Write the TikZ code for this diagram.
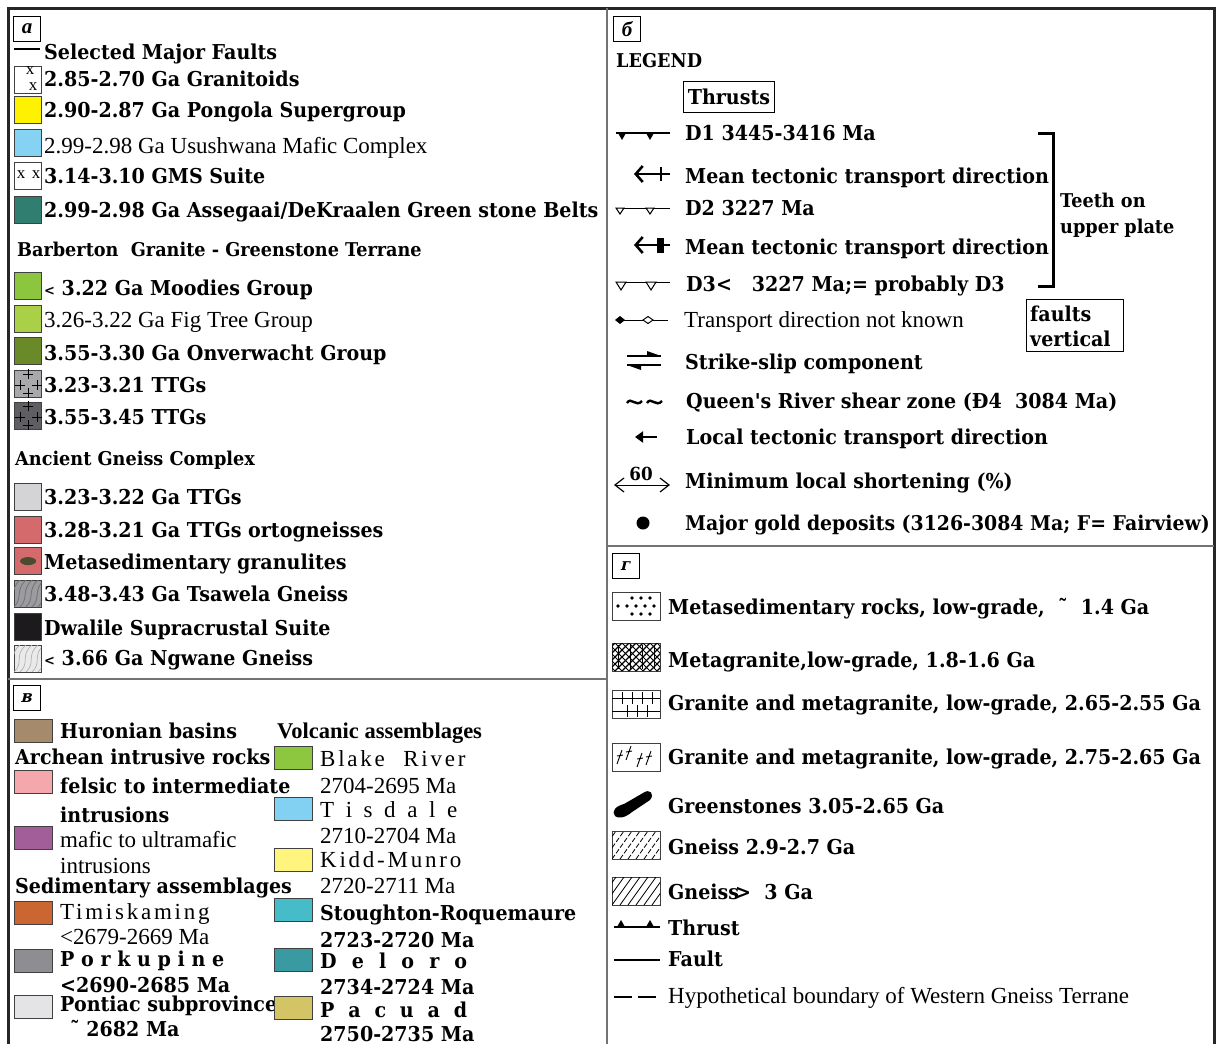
\documentclass[tikz,border=0pt]{standalone}
\usepackage{fontspec}
\setmainfont{Liberation Serif}
\newfontfamily\bk{DejaVu Serif}[FakeStretch=0.93]
\newfontfamily\spc{Liberation Serif}[LetterSpace=12]
\usetikzlibrary{arrows.meta}
\definecolor{pongola}{HTML}{FFF200}
\definecolor{usush}{HTML}{86D2F2}
\definecolor{assegaai}{HTML}{2F7E70}
\definecolor{moodies}{HTML}{8CC63F}
\definecolor{figtree}{HTML}{A9D046}
\definecolor{onverw}{HTML}{6A8A2A}
\definecolor{ttgA}{HTML}{A9A9AB}
\definecolor{ttgB}{HTML}{5F5F63}
\definecolor{ttgC}{HTML}{D4D4D6}
\definecolor{orto}{HTML}{D46A6C}
\definecolor{oval}{HTML}{4B4B30}
\definecolor{tsawela}{HTML}{9C9CA0}
\definecolor{dwalile}{HTML}{1C1A1C}
\definecolor{ngwane}{HTML}{EAEAEA}
\definecolor{huron}{HTML}{A58A6C}
\definecolor{felsic}{HTML}{F5A8AC}
\definecolor{mafic}{HTML}{A25E98}
\definecolor{timisk}{HTML}{CB6633}
\definecolor{porcu}{HTML}{8D8D92}
\definecolor{pontiac}{HTML}{E4E4E6}
\definecolor{blake}{HTML}{8DC63F}
\definecolor{tisdale}{HTML}{82D1F3}
\definecolor{kidd}{HTML}{FFF57E}
\definecolor{stough}{HTML}{46BCC8}
\definecolor{deloro}{HTML}{3A9AA1}
\definecolor{pacuad}{HTML}{D3C465}
\tikzstyle{every node}=[inner sep=0pt]
\tikzstyle{bt}=[anchor=west,text height=14pt,text depth=0pt,font=\bk\bfseries\fontsize{20.5}{22}\selectfont]
\tikzstyle{hd}=[bt,font=\bk\bfseries\fontsize{19}{20}\selectfont]
\tikzstyle{rt}=[anchor=west,text height=14pt,text depth=0pt,font=\fontsize{23}{24}\selectfont]
\tikzstyle{st}=[rt,font=\spc\fontsize{23}{24}\selectfont]
\tikzstyle{sw}=[draw=black!75,line width=1.2pt,anchor=north west,minimum width=27pt,minimum height=27pt]
\tikzstyle{swb}=[sw,minimum width=38pt,minimum height=23pt]
\tikzstyle{swg}=[sw,minimum width=48pt,minimum height=28pt]
\tikzstyle{tag}=[draw,line width=1.2pt,anchor=north west,minimum width=27pt,minimum height=25pt,font=\bfseries\itshape\fontsize{21}{22}\selectfont]
\tikzstyle{tagup}=[font=\bk\bfseries\fontsize{17}{18}\selectfont]
\tikzstyle{frame}=[line width=3pt,black!85]
\tikzstyle{divider}=[line width=2pt,black!55]
\tikzstyle{sym}=[line width=1.6pt]
\tikzstyle{xmark}=[font=\fontsize{17}{17}\selectfont]
\begin{document}
\begin{tikzpicture}[x=1pt,y=-1pt]
\useasboundingbox (0,0) rectangle (1220,1044);
% frame and panels
\draw[frame] (8,1044) -- (8,8) -- (1214,8) -- (1214,1044);
\draw[divider] (607,8) -- (607,1044);
\draw[divider] (8,679) -- (607,679);
\draw[divider] (607,546) -- (1214,546);

% ---- panel a
\node[tag] (tagA) at (13,16) {а};
\draw[line width=2.5pt] (14,49) -- (40,49);
\node[bt] (faultsT) at (44,52) {Selected Major Faults};
\node[sw,fill=white] (gran) at (14,66) {};
\node[xmark] (granX1) at (30,71) {x};
\node[xmark] (granX2) at (33,87) {x};
\node[bt] (granT) at (44,79) {2.85-2.70 Ga Granitoids};
\node[sw,fill=pongola] (pong) at (14,96) {};
\node[bt] (pongT) at (44,110) {2.90-2.87 Ga Pongola Supergroup};
\node[sw,fill=usush] (usush) at (14,129) {};
\node[rt] (usushT) at (44,146) {2.99-2.98 Ga Usushwana Mafic Complex};
\node[sw,fill=white] (gms) at (14,162) {};
\node[xmark] (gmsX1) at (21,175) {x};
\node[xmark] (gmsX2) at (36,175) {x};
\node[bt] (gmsT) at (44,176) {3.14-3.10 GMS Suite};
\node[sw,fill=assegaai] (asse) at (14,196) {};
\node[bt] (asseT) at (44,210) {2.99-2.98 Ga Assegaai/DeKraalen Green stone Belts};
\node[hd] (barbT) at (17,249) {Barberton\ \ Granite - Greenstone Terrane};
\node[sw,fill=moodies] (mood) at (14,272) {};
\node[bt] (moodT) at (44,288) {{\fontsize{14}{14}\selectfont<} 3.22 Ga Moodies Group};
\node[sw,fill=figtree] (fig) at (14,305) {};
\node[rt] (figT) at (44,320) {3.26-3.22 Ga Fig Tree Group};
\node[sw,fill=onverw] (onve) at (14,337) {};
\node[bt] (onveT) at (44,353) {3.55-3.30 Ga Onverwacht Group};
\node[sw,fill=ttgA] (ttgA) at (14,370) {};
\node[bt] (ttgAT) at (44,385) {3.23-3.21 TTGs};
\node[sw,fill=ttgB] (ttgB) at (14,402) {};
\node[bt] (ttgBT) at (44,417) {3.55-3.45 TTGs};
\foreach \b in {ttgA,ttgB}
  \foreach \p in {(0,-10),(-8,1),(9,1),(0,9)}
    \draw[line width=1pt,shift={(\b.center)},shift={\p}] (-5,0) -- (5,0) (0,-5) -- (0,5);
\node[hd] (agcT) at (15,458) {Ancient Gneiss Complex};
\node[sw,fill=ttgC] (ttgC) at (14,483) {};
\node[bt] (ttgCT) at (44,497) {3.23-3.22 Ga TTGs};
\node[sw,fill=orto] (orto) at (14,516) {};
\node[bt] (ortoT) at (44,530) {3.28-3.21 Ga TTGs ortogneisses};
\node[sw,fill=orto] (granu) at (14,547) {};
\fill[oval] (granu.center) ellipse (8 and 4);
\node[bt] (granuT) at (44,562) {Metasedimentary granulites};
\node[sw,fill=tsawela] (tsaw) at (14,580) {};
\begin{scope}
  \clip (14,580) rectangle (41,607);
  \foreach \i in {-16,-10,...,40}
    \draw[black!55,line width=0.8pt] (\i,607) .. controls (\i+9,598) and (\i+1,590) .. (\i+12,580);
\end{scope}
\node[bt] (tsawT) at (44,594) {3.48-3.43 Ga Tsawela Gneiss};
\node[sw,fill=dwalile] (dwal) at (14,613) {};
\node[bt] (dwalT) at (44,628) {Dwalile Supracrustal Suite};
\node[sw,fill=ngwane] (ngwa) at (14,645) {};
\begin{scope}
  \clip (14,645) rectangle (41,672);
  \foreach \i in {-16,-10,...,40}
    \draw[black!30,line width=0.7pt] (\i,672) .. controls (\i+10,663) and (\i,655) .. (\i+12,645);
\end{scope}
\node[bt] (ngwaT) at (44,658) {{\fontsize{14}{14}\selectfont<} 3.66 Ga Ngwane Gneiss};

% ---- panel B
\node[tag] (tagB) at (13,685) {};
\node[tagup,xslant=0.25,transform shape] (tagBT) at (tagB.center) {в};
\node[swb,fill=huron] (huron) at (14,719) {};
\node[bt] (huronT) at (60,731) {Huronian basins};
\node[bt] (archT) at (15,757) {Archean intrusive rocks};
\node[swb,fill=felsic] (felsic) at (14,770) {};
\node[bt] (felsicT) at (60,786) {felsic to intermediate};
\node[bt] (felsicT2) at (60,815) {intrusions};
\node[swb,fill=mafic] (mafic) at (14,826) {};
\node[rt] (maficT) at (60,840) {mafic to ultramafic};
\node[rt] (maficT2) at (60,866) {intrusions};
\node[bt] (sedT) at (15,886) {Sedimentary assemblages};
\node[swb,fill=timisk] (timisk) at (14,901) {};
\node[st] (timiskT) at (60,912) {Timiskaming};
\node[rt] (timiskA) at (60,937) {<2679-2669 Ma};
\node[swb,fill=porcu] (porcu) at (14,949) {};
\node[bt] (porcuT) at (60,959) {\makebox[164pt][s]{P o r k u p i n e}};
\node[bt] (porcuA) at (60,985) {<2690-2685 Ma};
\node[swb,fill=pontiac] (pontiac) at (14,995) {};
\node[bt] (pontiacT) at (60,1004) {Pontiac subprovince};
\node[bt] (pontiacA) at (70,1029) {˜ 2682 Ma};
\node[bt,font=\bfseries\fontsize{22.5}{24}\selectfont] (volcT) at (277,731) {Volcanic assemblages};
\node[swb,fill=blake] (blake) at (274,746) {};
\node[st] (blakeT) at (320,759) {Blake\hspace{10pt} River};
\node[rt] (blakeA) at (320,786) {2704-2695 Ma};
\node[swb,fill=tisdale] (tisdale) at (274,797) {};
\node[rt] (tisdaleT) at (320,810) {\makebox[137pt][s]{T i s d a l e}};
\node[rt] (tisdaleA) at (320,836) {2710-2704 Ma};
\node[swb,fill=kidd] (kidd) at (274,848) {};
\node[st] (kiddT) at (320,860) {Kidd-Munro};
\node[rt] (kiddA) at (320,886) {2720-2711 Ma};
\node[swb,fill=stough] (stough) at (274,898) {};
\node[bt] (stoughT) at (320,913) {Stoughton-Roquemaure};
\node[bt] (stoughA) at (320,940) {2723-2720 Ma};
\node[swb,fill=deloro] (deloro) at (274,948) {};
\node[bt] (deloroT) at (320,961) {\makebox[147pt][s]{D e l o r o}};
\node[bt] (deloroA) at (320,987) {2734-2724 Ma};
\node[swb,fill=pacuad] (pacuad) at (274,996) {};
\node[bt] (pacuadT) at (320,1010) {\makebox[147pt][s]{P a c u a d}};
\node[bt] (pacuadA) at (320,1034) {2750-2735 Ma};

% ---- panel b
\node[tag] (tagC) at (613,16) {б};
\node[hd] (legendT) at (616,60) {LEGEND};
\node[draw,line width=1.2pt,minimum width=91pt,minimum height=31pt,font=\bk\bfseries\fontsize{20.5}{22}\selectfont] (thrustsT) at (729,97) {Thrusts};
% D1
\draw[sym] (616,133) -- (670,133);
\foreach \x in {622,650} \fill (\x-4,133) -- (\x+4,133) -- (\x,140) -- cycle;
\node[bt] (d1T) at (685,133) {D1 3445-3416 Ma};
\draw[line width=2.6pt,-{Straight Barb[length=7pt,width=16pt,line width=2.6pt]}] (670,174) -- (634,174);
\draw[line width=2.6pt] (661,167) -- (661,181);
\node[bt] (meanT1) at (685,176) {Mean tectonic transport direction};
% D2
\draw[line width=1pt] (616,208) -- (670,208);
\foreach \x in {620,650} \draw[line width=1pt,fill=white] (\x-4,208) -- (\x+4,208) -- (\x,214) -- cycle;
\node[bt] (d2T) at (685,208) {D2 3227 Ma};
\draw[line width=2.6pt,-{Straight Barb[length=7pt,width=16pt,line width=2.6pt]}] (670,245) -- (634,245);
\fill (657,238) rectangle (664,253);
\node[bt] (meanT2) at (685,247) {Mean tectonic transport direction};
% D3
\draw[line width=1pt] (616,282) -- (670,282);
\foreach \x in {621,651} \draw[line width=1pt,fill=white] (\x-5,282) -- (\x+5,282) -- (\x,290) -- cycle;
\node[bt] (d3T) at (686,284) {D3<\ \ \ 3227 Ma;= probably D3};
\draw[line width=3pt] (1038,133) -- (1053,133) -- (1053,286) -- (1038,286);
\node[hd] (teethT1) at (1060,200) {Teeth on};
\node[hd] (teethT2) at (1060,226) {upper plate};
\node[draw,line width=1.2pt,anchor=north west,minimum width=97pt,minimum height=52pt] (vertBox) at (1026,299) {};
\node[bt] (vertT1) at (1030,314) {faults};
\node[bt] (vertT2) at (1030,339) {vertical};
% unknown direction
\draw[line width=1pt] (618,320) -- (668,320);
\fill (615,320) -- (620,316) -- (625,320) -- (620,324) -- cycle;
\draw[line width=1pt,fill=white] (643,320) -- (648,316.5) -- (653,320) -- (648,323.5) -- cycle;
\node[rt] (unknT) at (684,320) {Transport direction not known};
% strike-slip
\draw[line width=1.4pt] (627,356) -- (661,356);
\fill (647,351) -- (661,356) -- (647,356) -- cycle;
\draw[line width=1.4pt] (627,365) -- (661,365);
\fill (641,370) -- (627,365) -- (641,365) -- cycle;
\node[bt] (slipT) at (685,362) {Strike-slip component};
% shear zone
\draw[line width=2.4pt] (627,403) .. controls (631,396) and (636,408) .. (642,401)
  (647,403) .. controls (651,396) and (656,408) .. (662,401);
\node[bt] (queenT) at (686,401) {Queen's River shear zone (Ð4\ \ 3084 Ma)};
% local arrow
\draw[line width=2.4pt,-{Triangle[length=8pt,width=11pt]}] (657,437) -- (635,437);
\node[bt] (localT) at (686,437) {Local tectonic transport direction};
% shortening
\draw[line width=1.2pt] (624,478) -- (615,485) -- (624,492) (660,478) -- (669,485) -- (660,492);
\draw[line width=1pt] (616,485) -- (668,485);
\node[font=\bk\bfseries\fontsize{18}{18}\selectfont] (sixty) at (641,474) {60};
\node[bt] (shortT) at (685,481) {Minimum local shortening (\%)};
\fill (643,523) circle (6.5);
\node[bt,font=\bk\bfseries\fontsize{20.3}{22}\selectfont] (goldT) at (685,523) {Major gold deposits (3126-3084 Ma; F= Fairview)};

% ---- panel g
\node[tag] (tagD) at (612,553) {};
\node[tagup,xslant=0.25,transform shape] (tagDT) at (tagD.center) {г};
\node[swg,fill=white] (sedr) at (612,592) {};
\foreach \x/\y in {632/598,641/598,650/598,618/606,627/606,636/606,645/606,654/606,632/614,641/614,650/614}
  \fill (\x,\y) circle (1.9);
\node[bt] (sedrT) at (668,607) {Metasedimentary rocks, low-grade,\ \ ˜\ \ 1.4 Ga};
\node[swg,fill=white] (mgra) at (612,643) {};
\begin{scope}
  \clip (612,643) rectangle (660,671);
  \foreach \i in {580,587,...,680} {
    \draw[line width=1.3pt] (\i,671) -- (\i+28,643);
    \draw[line width=0.8pt] (\i,643) -- (\i+28,671);
  }
  \foreach \x in {618,630,642,654} \draw[line width=1pt] (\x,645) -- (\x,669);
\end{scope}
\node[bt] (mgraT) at (668,660) {Metagranite,low-grade, 1.8-1.6 Ga};
\node[swg,fill=white] (gra1) at (612,690) {};
\draw[line width=1pt] (612,698) -- (660,698) (612,711) -- (660,711);
\foreach \x in {622,632,642,652} \draw[line width=1pt] (\x,692) -- (\x,704);
\foreach \x in {627,637,647} \draw[line width=1pt] (\x,705) -- (\x,717);
\node[bt] (gra1T) at (668,703) {Granite and metagranite, low-grade, 2.65-2.55 Ga};
\node[swg,fill=white] (gra2) at (612,743) {};
\foreach \x/\y in {617/764,626/760,637/767,646/765}
  \draw[line width=0.9pt] (\x,\y) -- (\x+5,\y-14) (\x,\y-8) -- (\x+6,\y-9);
\node[bt] (gra2T) at (668,757) {Granite and metagranite, low-grade, 2.75-2.65 Ga};
\fill (615,816) .. controls (611,811) and (616,806) .. (624,804) -- (643,793)
  .. controls (650,788) and (655,794) .. (650,800) -- (632,812) .. controls (625,818) and (618,819) .. (615,816) -- cycle;
\node[bt] (greenT) at (668,806) {Greenstones 3.05-2.65 Ga};
\node[swg,fill=white] (gn1) at (612,831) {};
\begin{scope}
  \clip (612,831) rectangle (660,859);
  \foreach \i in {596,604,...,668}
    \draw[line width=0.8pt,dash pattern=on 5pt off 2pt] (\i,859) -- (\i+20,831);
\end{scope}
\node[bt] (gn1T) at (668,847) {Gneiss 2.9-2.7 Ga};
\node[swg,fill=white] (gn2) at (612,877) {};
\begin{scope}
  \clip (612,877) rectangle (660,905);
  \foreach \i in {596,604,...,668}
    \draw[line width=0.8pt] (\i,905) -- (\i+20,877);
\end{scope}
\node[bt] (gn2T) at (668,892) {Gneiss\kern-4pt>\ \ 3 Ga};
\draw[sym] (614,927) -- (660,927);
\foreach \x in {621,650} \fill (\x-4,927) -- (\x+4,927) -- (\x,920) -- cycle;
\node[bt] (thrustT) at (668,928) {Thrust};
\draw[sym] (614,960) -- (660,960);
\node[bt] (faultT) at (668,959) {Fault};
\draw[line width=2pt,dash pattern=on 18pt off 6pt] (614,997) -- (660,997);
\node[rt] (hypoT) at (668,996) {Hypothetical boundary of Western Gneiss Terrane};
\end{tikzpicture}
\end{document}
